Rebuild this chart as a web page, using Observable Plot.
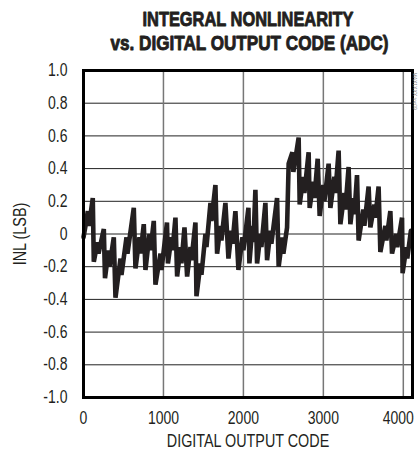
<!DOCTYPE html>
<html>
<head>
<meta charset="utf-8">
<script src="https://cdn.jsdelivr.net/npm/d3@7"></script>
<script src="https://cdn.jsdelivr.net/npm/@observablehq/plot@0.6"></script>
<style>
  html, body { margin: 0; padding: 0; background: #fff; }
</style>
</head>
<body>
<div id="wrap"></div>
<script>
const codes = [0, 25, 54, 69, 116, 129, 175, 188, 254, 269, 313, 325, 379, 400, 463, 475, 538, 550, 629, 650,
  700, 713, 754, 775, 825, 838, 879, 900, 963, 975, 1044, 1056, 1100, 1113, 1150, 1171, 1213, 1225, 1263, 1296,
  1338, 1350, 1400, 1413, 1463, 1475, 1525, 1538, 1588, 1600, 1650, 1671, 1713, 1725, 1775, 1813, 1850, 1863, 1900, 1938,
  1988, 2000, 2063, 2075, 2113, 2125, 2150, 2171, 2213, 2225, 2275, 2296, 2338, 2350, 2421, 2441, 2488, 2500, 2546, 2566,
  2613, 2625, 2691, 2704, 2750, 2763, 2816, 2829, 2875, 2888, 2929, 2954, 3000, 3013, 3066, 3088, 3138, 3150, 3191, 3213,
  3263, 3275, 3316, 3338, 3375, 3388, 3421, 3441, 3500, 3513, 3566, 3588, 3638, 3650, 3691, 3713, 3775, 3788, 3838, 3859,
  3913, 3925, 3984, 3991, 4038, 4050, 4095];
const inlValues = [-0.02, 0.05, 0.14, 0.05, 0.22, -0.17, -0.05, -0.12, 0.03, -0.27, -0.10, -0.20, -0.02, -0.39, -0.15, -0.25, -0.02, -0.12, 0.16, -0.21,
  -0.02, -0.12, 0.06, -0.22, 0.00, -0.10, 0.08, -0.31, -0.12, -0.22, 0.07, -0.18, -0.02, -0.10, 0.10, -0.26, -0.08, -0.18, 0.04, -0.26,
  -0.08, -0.16, 0.07, -0.38, -0.18, -0.25, 0.00, -0.08, 0.19, 0.08, 0.30, -0.12, 0.05, -0.04, 0.19, -0.15, 0.02, -0.06, 0.14, -0.22,
  -0.02, -0.10, 0.16, -0.18, 0.05, -0.05, 0.27, -0.18, 0.00, -0.08, 0.19, -0.16, 0.02, -0.06, 0.22, -0.20, -0.02, -0.12, 0.04, 0.43,
  0.50, 0.38, 0.59, 0.18, 0.35, 0.25, 0.50, 0.16, 0.32, 0.22, 0.46, 0.11, 0.30, 0.20, 0.43, 0.16, 0.35, 0.25, 0.51, 0.06,
  0.25, 0.15, 0.41, 0.06, 0.22, 0.12, 0.36, -0.04, 0.15, 0.05, 0.29, 0.04, 0.18, 0.10, 0.29, -0.11, 0.05, -0.04, 0.14, -0.12,
  0.00, -0.08, 0.10, -0.24, -0.08, -0.15, 0.02];

const xTicks = [0, 1000, 2000, 3000, 4000];
const yTicks = [-1.0, -0.8, -0.6, -0.4, -0.2, 0, 0.2, 0.4, 0.6, 0.8, 1.0];
const yTickLabels = ["-1.0", "-0.8", "-0.6", "-0.4", "-0.2", "0", "0.2", "0.4", "0.6", "0.8", "1.0"];
const titleLines = ["INTEGRAL NONLINEARITY", "vs. DIGITAL OUTPUT CODE (ADC)"];

const data = codes.map((c, i) => ({code: c, inl: inlValues[i]}));
const ink = "#231f20";

const chart = Plot.plot({
  width: 419,
  height: 454,
  marginTop: 70,
  marginBottom: 57,
  marginLeft: 83,
  marginRight: 7,
  style: {
    fontFamily: "'Liberation Sans', Arial, sans-serif",
    fontSize: "17.5px",
    color: ink,
    background: "#fff",
    overflow: "visible"
  },
  x: {domain: [0, 4115]},
  y: {domain: [-1, 1]},
  marks: [
    Plot.gridY(yTicks, {stroke: "#222", strokeOpacity: 1, strokeWidth: 1}),
    Plot.gridX(xTicks, {stroke: "#777", strokeOpacity: 1, strokeWidth: 1.5}),
    Plot.line(data, {x: "code", y: "inl", stroke: ink, strokeWidth: 4.6, strokeLinejoin: "miter", strokeMiterlimit: 3}),
    Plot.frame({stroke: "#000", strokeWidth: 3}),
    Plot.axisY(yTicks, {
      tickSize: 0, tickPadding: 16,
      tickFormat: (d) => yTickLabels[yTicks.indexOf(d)],
      label: "INL (LSB)", labelAnchor: "center", labelArrow: "none", labelOffset: 70
    }),
    Plot.axisX(xTicks, {
      tickSize: 0, tickPadding: 14,
      tickFormat: (d) => String(d),
      label: "DIGITAL OUTPUT CODE", labelAnchor: "center", labelArrow: "none", labelOffset: 49
    }),
    Plot.text([titleLines[0]], {frameAnchor: "top", dy: -51.7, lineAnchor: "middle", fontSize: 21, fontWeight: "bold", fill: ink, stroke: ink, strokeWidth: 0.9, className: "ttl"}),
    Plot.text([titleLines[1]], {frameAnchor: "top", dx: 1.5, dy: -27.2, lineAnchor: "middle", fontSize: 21, fontWeight: "bold", fill: ink, stroke: ink, strokeWidth: 0.9, className: "ttl"}),
    Plot.text(["MAX1XXX toc09"], {frameAnchor: "top-right", dx: 4, dy: 2, rotate: 90, textAnchor: "start", fontSize: 5, fill: "#888"})
  ]
});
document.getElementById("wrap").append(chart);

// Condense text to match the narrow typeface of the reference
function fit(t, target) {
  t.setAttribute("textLength", target.toFixed(2));
  t.setAttribute("lengthAdjust", "spacingAndGlyphs");
}
chart.querySelectorAll('g[aria-label="x-axis tick label"] text, g[aria-label="y-axis tick label"] text').forEach((t) => {
  fit(t, t.getComputedTextLength() * 0.8);
  if (t.textContent === "4000") t.setAttribute("dx", "-5");
});
chart.querySelectorAll('g[aria-label="x-axis label"] text, g[aria-label="y-axis label"] text').forEach((t) => {
  fit(t, t.getComputedTextLength() * 0.82);
});
const titleWidths = {"INTEGRAL NONLINEARITY": 211, "vs. DIGITAL OUTPUT CODE (ADC)": 278};
chart.querySelectorAll("g.ttl text, .ttl text").forEach((t) => {
  const w = titleWidths[t.textContent];
  if (w) fit(t, w);
});
</script>
</body>
</html>
